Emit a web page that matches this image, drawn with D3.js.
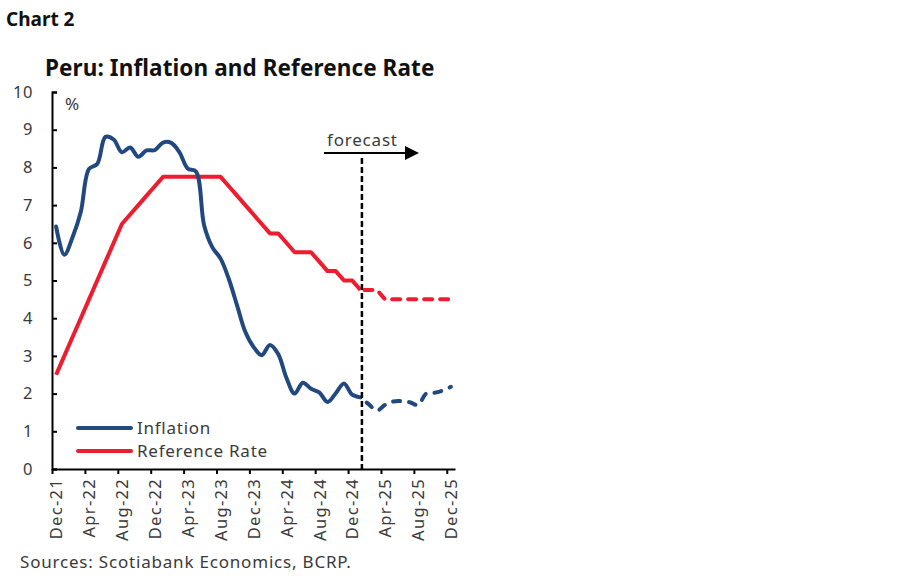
<!DOCTYPE html>
<html>
<head>
<meta charset="utf-8">
<script src="https://cdn.jsdelivr.net/npm/d3@7"></script>
<style>
  body { margin: 0; background: #fff; }
  svg { display: block; font-family: "Noto Sans", sans-serif; }
</style>
</head>
<body>
<svg width="900" height="579"></svg>
<script>
// months on the category axis (Dec-21 .. Dec-25)
const months = [
  "Dec-21", "Jan-22", "Feb-22", "Mar-22", "Apr-22", "May-22", "Jun-22", "Jul-22", "Aug-22", "Sep-22", "Oct-22", "Nov-22",
  "Dec-22", "Jan-23", "Feb-23", "Mar-23", "Apr-23", "May-23", "Jun-23", "Jul-23", "Aug-23", "Sep-23", "Oct-23", "Nov-23",
  "Dec-23", "Jan-24", "Feb-24", "Mar-24", "Apr-24", "May-24", "Jun-24", "Jul-24", "Aug-24", "Sep-24", "Oct-24", "Nov-24",
  "Dec-24", "Jan-25", "Feb-25", "Mar-25", "Apr-25", "May-25", "Jun-25", "Jul-25", "Aug-25", "Sep-25", "Oct-25", "Nov-25",
  "Dec-25"
];

// actual inflation, Dec-21 .. Jan-25 (% y/y)
const inflation = [
  6.43, 5.68, 6.15, 6.82, 7.96, 8.09, 8.81, 8.74, 8.40, 8.53, 8.28, 8.45,
  8.46, 8.66, 8.65, 8.40, 7.97, 7.89, 6.46, 5.88, 5.58, 5.04, 4.34, 3.64,
  3.24, 3.02, 3.29, 3.05, 2.42, 2.00, 2.29, 2.13, 2.03, 1.78, 2.01, 2.27,
  1.97, 1.90
];
// inflation forecast, Jan-25 .. Dec-25
const inflationForecast = [1.90, 1.72, 1.55, 1.70, 1.79, 1.80, 1.77, 1.70, 2.00, 2.02, 2.08, 2.18];

// reference rate actual, Dec-21 .. Jan-25
const refRate = [
  2.50, 3.00, 3.50, 4.00, 4.50, 5.00, 5.50, 6.00, 6.50, 6.75, 7.00, 7.25,
  7.50, 7.75, 7.75, 7.75, 7.75, 7.75, 7.75, 7.75, 7.75, 7.50, 7.25, 7.00,
  6.75, 6.50, 6.25, 6.25, 6.00, 5.75, 5.75, 5.75, 5.50, 5.25, 5.25, 5.00,
  5.00, 4.75
];
// reference rate forecast, Jan-25 .. Dec-25
const refRateForecast = [4.75, 4.75, 4.75, 4.50, 4.50, 4.50, 4.50, 4.50, 4.50, 4.50, 4.50, 4.50];

const forecastStart = "Jan-25";
const yTicks = [0, 1, 2, 3, 4, 5, 6, 7, 8, 9, 10];

const blue = "#22497f";
const red = "#ed1c2e";
const grey = "#3a3a3a";

const svg = d3.select("svg");

const x = d3.scaleBand().domain(months).range([52, 455]).padding(0);
const xi = d3.scaleLinear().domain([0, months.length]).range([52, 455]); // band edges for ticks
const y = d3.scaleLinear().domain([0, 10]).range([469, 92]);
const cx = (m) => x(m) + x.bandwidth() / 2;

// titles
svg.append("text")
  .attr("x", 6).attr("y", 26)
  .attr("font-size", 19).attr("font-weight", 700).attr("fill", "#111")
  .text("Chart 2");

svg.append("text")
  .attr("x", 45).attr("y", 76)
  .attr("font-size", 22.5).attr("font-weight", 700).attr("fill", "#111")
  .attr("letter-spacing", 0.1)
  .text("Peru: Inflation and Reference Rate");

// y axis
const yAxis = svg.append("g")
  .attr("transform", "translate(52,0)")
  .call(d3.axisLeft(y).tickValues(yTicks).tickSize(-5).tickPadding(19).tickFormat(d3.format("d")));
yAxis.select(".domain").attr("stroke", "#000").attr("stroke-width", 2);
yAxis.selectAll(".tick line").attr("stroke", "#000").attr("stroke-width", 2);
yAxis.selectAll(".tick text").attr("font-size", 16.5).attr("fill", grey)
  .attr("letter-spacing", 0.6)
  .attr("font-family", "Noto Sans, sans-serif");

svg.append("text")
  .attr("x", 65).attr("y", 110)
  .attr("font-size", 17).attr("fill", grey)
  .text("%");

// x axis, ticks on band edges every 4 months
const tickIdx = d3.range(0, months.length, 4);
const xAxis = svg.append("g")
  .attr("transform", "translate(0,469)")
  .call(d3.axisBottom(xi).tickValues(tickIdx).tickSize(5).tickSizeOuter(0).tickFormat((i) => months[i]));
xAxis.select(".domain").attr("stroke", "#000").attr("stroke-width", 2);
xAxis.selectAll(".tick line").attr("stroke", "#000").attr("stroke-width", 2);
xAxis.selectAll(".tick text")
  .attr("font-size", 16.5).attr("fill", grey).attr("letter-spacing", 1.3)
  .attr("font-family", "Noto Sans, sans-serif")
  .attr("text-anchor", "end")
  .attr("transform", `translate(${x.bandwidth() / 2},0) rotate(-90)`)
  .attr("x", -9).attr("y", 0).attr("dy", "0.35em");

// lines
const actualMonths = months.slice(0, inflation.length);
const fcMonths = months.slice(months.indexOf(forecastStart));

const smooth = d3.line()
  .x((d) => cx(d[0])).y((d) => y(d[1]))
  .curve(d3.curveCatmullRom.alpha(0.5));
const straight = d3.line()
  .x((d) => cx(d[0])).y((d) => y(d[1]));

const zip = (ms, vs) => ms.map((m, i) => [m, vs[i]]);

svg.append("path")
  .attr("d", straight(zip(actualMonths, refRate)))
  .attr("fill", "none").attr("stroke", red).attr("stroke-width", 4)
  .attr("stroke-linejoin", "round");
svg.append("path")
  .attr("d", straight(zip(fcMonths, refRateForecast)))
  .attr("fill", "none").attr("stroke", red).attr("stroke-width", 4)
  .attr("stroke-dasharray", "8,8").attr("stroke-linecap", "round")
  .attr("stroke-dashoffset", -4);

svg.append("path")
  .attr("d", smooth(zip(actualMonths, inflation)))
  .attr("fill", "none").attr("stroke", blue).attr("stroke-width", 4)
  .attr("stroke-linejoin", "round").attr("stroke-linecap", "round");
svg.append("path")
  .attr("d", smooth(zip(fcMonths, inflationForecast)))
  .attr("fill", "none").attr("stroke", blue).attr("stroke-width", 4)
  .attr("stroke-dasharray", "7,9").attr("stroke-linecap", "round")
  .attr("stroke-dashoffset", -8);

// forecast divider
const fx = cx(forecastStart) + 1.5;
svg.append("line")
  .attr("x1", fx).attr("x2", fx).attr("y1", 158).attr("y2", 469)
  .attr("stroke", "#000").attr("stroke-width", 2.5).attr("stroke-dasharray", "6,3");

svg.append("defs").append("marker")
  .attr("id", "arrow").attr("viewBox", "0 0 10 10")
  .attr("refX", 0).attr("refY", 5)
  .attr("markerWidth", 7).attr("markerHeight", 7)
  .attr("markerUnits", "strokeWidth")
  .attr("orient", "auto")
  .append("path").attr("d", "M0,0 L10,5 L0,10 Z").attr("fill", "#000");

svg.append("line")
  .attr("x1", 324).attr("x2", 405).attr("y1", 153).attr("y2", 153)
  .attr("stroke", "#000").attr("stroke-width", 2)
  .attr("marker-end", "url(#arrow)");

svg.append("text")
  .attr("x", 327).attr("y", 146)
  .attr("font-size", 17).attr("fill", grey).attr("letter-spacing", 0.8)
  .text("forecast");

// legend
const legend = [
  { label: "Inflation", color: blue },
  { label: "Reference Rate", color: red }
];
const lg = svg.append("g").selectAll("g").data(legend).join("g")
  .attr("transform", (d, i) => `translate(0,${428 + i * 23})`);
lg.append("line")
  .attr("x1", 78).attr("x2", 131)
  .attr("stroke", (d) => d.color).attr("stroke-width", 4).attr("stroke-linecap", "round");
lg.append("text")
  .attr("x", 137).attr("dy", "0.35em")
  .attr("font-size", 17).attr("fill", grey).attr("letter-spacing", 0.75)
  .text((d) => d.label);

// source
svg.append("text")
  .attr("x", 20).attr("y", 568)
  .attr("font-size", 17).attr("fill", grey).attr("letter-spacing", 0.8)
  .text("Sources: Scotiabank Economics, BCRP.");
</script>
</body>
</html>
